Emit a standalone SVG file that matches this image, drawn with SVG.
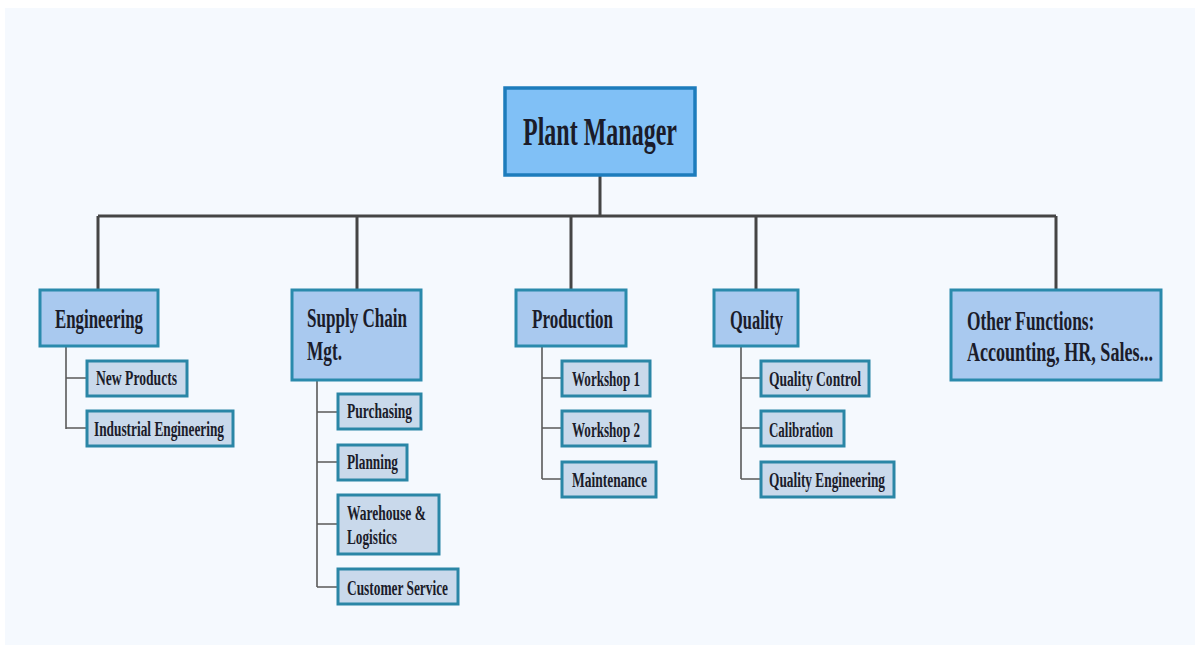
<svg xmlns="http://www.w3.org/2000/svg" width="1195" height="646" viewBox="0 0 1195 646">
<style>
text{font-family:'Liberation Serif','DejaVu Serif',serif;font-weight:700;fill:#1b1c2a}
.top{fill:#80c0f6;stroke:#1d7cbc;stroke-width:3.5}
.l2{fill:#a9c9ef;stroke:#2a8aac;stroke-width:3}
.l3{fill:#c9d9eb;stroke:#2a86a6;stroke-width:3}
.t1{font-size:39px}
.t2{font-size:28px}
.t3{font-size:20px}
.main{stroke:#454545;stroke-width:3;fill:none}
.sub{stroke:#5a5a5a;stroke-width:1.6;fill:none}
</style>
<rect x="0" y="0" width="1195" height="646" fill="#ffffff"/>
<rect x="5" y="8" width="1190" height="637" fill="#f5f9fe"/>
<g id="connectors">
<path class="main" d="M600 175V216M98 216H1056M98 216V290M357 216V290M571 216V290M756 216V290M1056 216V290"/>
<path class="sub" d="M66 346V429M66 378H87M66 428H87"/>
<path class="sub" d="M317 380V587M317 412H338M317 462H338M317 524H338M317 587H338"/>
<path class="sub" d="M542 346V479M542 378H562M542 428H562M542 479H562"/>
<path class="sub" d="M741 346V479M741 378H761M741 428H761M741 479H761"/>
</g>
<g id="plant-manager">
<rect class="top" x="505" y="88" width="190" height="87"/>
<text class="t1" x="523" y="145" textLength="154" lengthAdjust="spacingAndGlyphs">Plant Manager</text>
</g>
<g id="engineering">
<rect class="l2" x="40" y="290" width="118" height="56"/>
<text class="t2" x="55" y="328" textLength="88" lengthAdjust="spacingAndGlyphs">Engineering</text>
</g>
<g id="new-products">
<rect class="l3" x="87" y="361" width="100" height="35"/>
<text class="t3" x="96" y="385" textLength="81" lengthAdjust="spacingAndGlyphs">New Products</text>
</g>
<g id="industrial-engineering">
<rect class="l3" x="87" y="411" width="146" height="35"/>
<text class="t3" x="94" y="436" textLength="130" lengthAdjust="spacingAndGlyphs">Industrial Engineering</text>
</g>
<g id="supply-chain">
<rect class="l2" x="292" y="290" width="129" height="90"/>
<text class="t2" x="307" y="327" textLength="100" lengthAdjust="spacingAndGlyphs">Supply Chain</text>
<text class="t2" x="307" y="360" textLength="35" lengthAdjust="spacingAndGlyphs">Mgt.</text>
</g>
<g id="purchasing">
<rect class="l3" x="338" y="394" width="83" height="35"/>
<text class="t3" x="347" y="418" textLength="65" lengthAdjust="spacingAndGlyphs">Purchasing</text>
</g>
<g id="planning">
<rect class="l3" x="338" y="445" width="69" height="35"/>
<text class="t3" x="347" y="469" textLength="51" lengthAdjust="spacingAndGlyphs">Planning</text>
</g>
<g id="warehouse">
<rect class="l3" x="338" y="495" width="101" height="59"/>
<text class="t3" x="347" y="520" textLength="79" lengthAdjust="spacingAndGlyphs">Warehouse &amp;</text>
<text class="t3" x="347" y="544" textLength="50" lengthAdjust="spacingAndGlyphs">Logistics</text>
</g>
<g id="customer-service">
<rect class="l3" x="338" y="569" width="120" height="35"/>
<text class="t3" x="347" y="595" textLength="101" lengthAdjust="spacingAndGlyphs">Customer Service</text>
</g>
<g id="production">
<rect class="l2" x="516" y="290" width="110" height="56"/>
<text class="t2" x="532" y="328" textLength="81" lengthAdjust="spacingAndGlyphs">Production</text>
</g>
<g id="workshop-1">
<rect class="l3" x="562" y="361" width="88" height="35"/>
<text class="t3" x="572" y="386" textLength="68" lengthAdjust="spacingAndGlyphs">Workshop 1</text>
</g>
<g id="workshop-2">
<rect class="l3" x="562" y="411" width="88" height="35"/>
<text class="t3" x="572" y="437" textLength="68" lengthAdjust="spacingAndGlyphs">Workshop 2</text>
</g>
<g id="maintenance">
<rect class="l3" x="562" y="462" width="94" height="35"/>
<text class="t3" x="572" y="487" textLength="75" lengthAdjust="spacingAndGlyphs">Maintenance</text>
</g>
<g id="quality">
<rect class="l2" x="714" y="290" width="84" height="56"/>
<text class="t2" x="730" y="329" textLength="53" lengthAdjust="spacingAndGlyphs">Quality</text>
</g>
<g id="quality-control">
<rect class="l3" x="761" y="361" width="108" height="35"/>
<text class="t3" x="769" y="386" textLength="92" lengthAdjust="spacingAndGlyphs">Quality Control</text>
</g>
<g id="calibration">
<rect class="l3" x="761" y="411" width="83" height="35"/>
<text class="t3" x="769" y="437" textLength="64" lengthAdjust="spacingAndGlyphs">Calibration</text>
</g>
<g id="quality-engineering">
<rect class="l3" x="761" y="462" width="133" height="35"/>
<text class="t3" x="769" y="487" textLength="116" lengthAdjust="spacingAndGlyphs">Quality Engineering</text>
</g>
<g id="other-functions">
<rect class="l2" x="951" y="290" width="210" height="90"/>
<text class="t2" transform="translate(967,330) scale(0.62,1)" x="0" y="0">Other Functions:</text>
<text class="t2" transform="translate(967,361) scale(0.645,1)" x="0" y="0">Accounting, HR, Sales...</text>
</g>
</svg>
